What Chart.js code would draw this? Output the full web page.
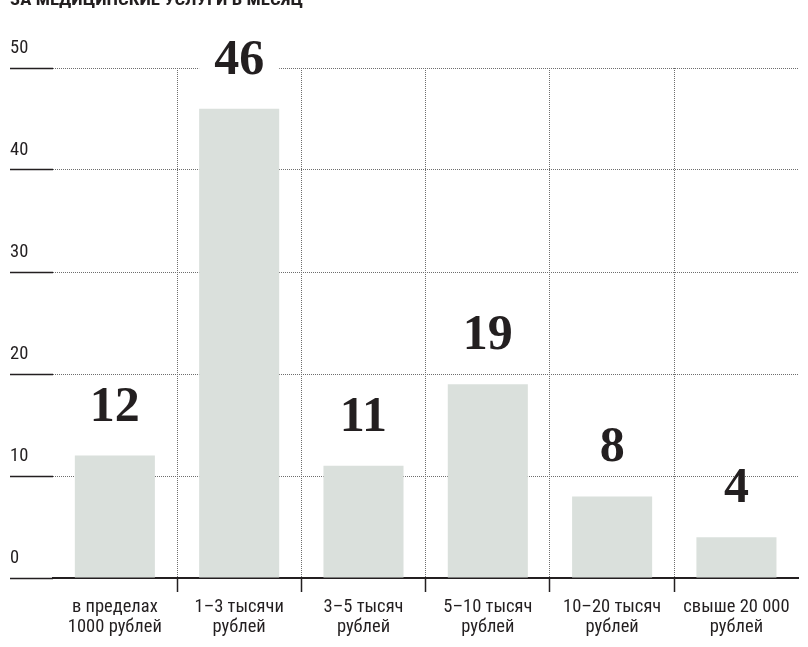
<!DOCTYPE html>
<html>
<head>
<meta charset="utf-8">
<script src="https://cdn.jsdelivr.net/npm/chart.js@4.4.0/dist/chart.umd.min.js"></script>
<style>
  html, body { margin: 0; padding: 0; background: #ffffff; }
  #wrap { width: 808px; height: 647px; }
</style>
</head>
<body>
<div id="wrap"><canvas id="c" width="808" height="647"></canvas></div>
<script>
const titleText = 'ЗА МЕДИЦИНСКИЕ УСЛУГИ В МЕСЯЦ';
const categories = [
  ['в пределах', '1000 рублей'],
  ['1–3 тысячи', 'рублей'],
  ['3–5 тысяч', 'рублей'],
  ['5–10 тысяч', 'рублей'],
  ['10–20 тысяч', 'рублей'],
  ['свыше 20 000', 'рублей']
];
const values = [12, 46, 11, 19, 8, 4];
const yTicks = [0, 10, 20, 30, 40, 50];

const TEXT = '#231f20';
const GRID = '#6e6e6e';
const BAR = '#dae0dc';
const NARROW = '"Roboto Condensed", "DejaVu Sans Condensed", Roboto, sans-serif';

const labelPlugin = {
  id: 'barLabels',
  afterDatasetsDraw(chart) {
    const ctx = chart.ctx;
    const meta = chart.getDatasetMeta(0);
    const top = chart.chartArea.top;
    ctx.save();
    ctx.font = 'bold 50px "Liberation Serif", "Times New Roman", serif';
    ctx.textAlign = 'center';
    ctx.textBaseline = 'alphabetic';
    meta.data.forEach((el, i) => {
      const base = el.y - 35;
      const boxTop = base - 38, boxBottom = base + 6;
      if (boxTop < top && boxBottom > top) {
        ctx.fillStyle = '#ffffff';
        ctx.fillRect(el.x - el.width / 2, boxTop, el.width, boxBottom - boxTop);
      }
      ctx.fillStyle = TEXT;
      ctx.fillText(String(values[i]), el.x, base);
    });
    ctx.restore();
  },
  afterDraw(chart) {
    const ctx = chart.ctx;
    ctx.save();
    ctx.font = 'bold 17px ' + NARROW;
    ctx.fillStyle = TEXT;
    ctx.textBaseline = 'alphabetic';
    const w = ctx.measureText(titleText).width;
    const sx = 293 / w;
    ctx.translate(10, 5);
    ctx.scale(sx, 1);
    ctx.fillText(titleText, 0, 0);
    ctx.restore();
  }
};

const isEdge = (c) => c.type !== 'tick' || c.index === 0;

new Chart(document.getElementById('c'), {
  type: 'bar',
  data: {
    labels: categories,
    datasets: [{
      data: values,
      backgroundColor: BAR,
      borderWidth: 0,
      categoryPercentage: 1,
      barPercentage: 0.644
    }]
  },
  options: {
    responsive: false,
    animation: false,
    devicePixelRatio: 1,
    layout: { padding: { left: 10, right: 9.4, top: 68, bottom: 0 } },
    plugins: { legend: { display: false }, tooltip: { enabled: false }, title: { display: false } },
    scales: {
      x: {
        type: 'category',
        offset: true,
        grid: {
          offset: true,
          drawOnChartArea: true,
          drawTicks: true,
          tickLength: 14,
          lineWidth: 1,
          tickWidth: 1.5,
          color: (c) => isEdge(c) ? 'rgba(0,0,0,0)' : GRID,
          tickColor: (c) => isEdge(c) ? 'rgba(0,0,0,0)' : TEXT,
          tickBorderDash: []
        },
        border: { display: true, color: TEXT, width: 2, dash: [1, 1] },
        ticks: {
          color: TEXT,
          font: { family: NARROW, size: 18.5, lineHeight: 1.1 },
          padding: 5,
          maxRotation: 0,
          autoSkip: false
        },
        afterFit(scale) { scale.height = 69; }
      },
      y: {
        min: 0,
        max: 50,
        afterBuildTicks(scale) { scale.ticks = yTicks.map(v => ({ value: v })); },
        grid: {
          drawOnChartArea: true,
          drawTicks: true,
          tickLength: 42.7,
          lineWidth: 1,
          tickWidth: 1.5,
          color: GRID,
          tickColor: TEXT,
          tickBorderDash: []
        },
        border: { display: false, dash: [1, 1] },
        ticks: {
          color: TEXT,
          font: { family: NARROW, size: 18.5 },
          crossAlign: 'far',
          labelOffset: -20,
          padding: 0,
          callback: (v) => String(v)
        },
        afterFit(scale) { scale.width = 42.7; }
      }
    }
  },
  plugins: [labelPlugin]
});
</script>
</body>
</html>
